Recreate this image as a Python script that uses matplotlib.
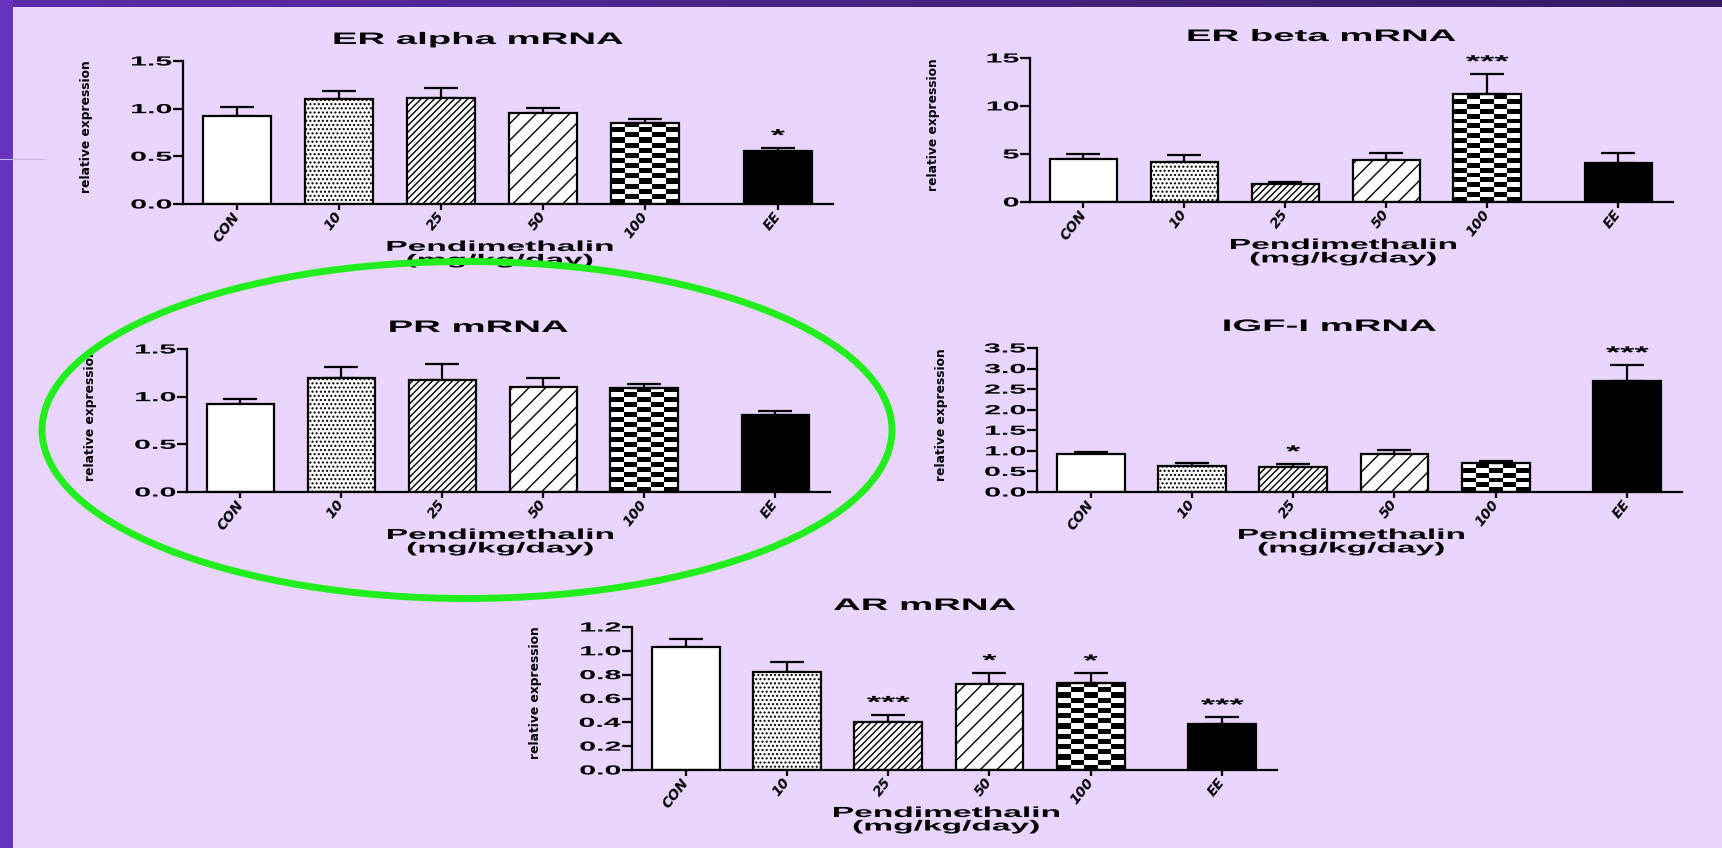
import numpy as np
import matplotlib
matplotlib.use("Agg")
import matplotlib.pyplot as plt
import matplotlib.patheffects as pe
from matplotlib.transforms import Affine2D
from matplotlib.patches import Ellipse, Rectangle
from matplotlib.lines import Line2D
from matplotlib.colors import LinearSegmentedColormap

plt.rcParams['font.family'] = ['Liberation Sans', 'DejaVu Sans']
plt.rcParams['font.weight'] = 'bold'
plt.rcParams['hatch.linewidth'] = 1.0

# groups on the x axis
groups = ['CON', '10', '25', '50', '100', 'EE']
xpos = [0, 1, 2, 3, 4, 5.3]

# ER alpha
era_mean = [0.92, 1.10, 1.11, 0.95, 0.85, 0.56]
era_sem = [0.10, 0.09, 0.11, 0.06, 0.045, 0.03]
era_sig = ['', '', '', '', '', '*']

# ER beta
erb_mean = [4.52, 4.21, 1.84, 4.35, 11.2, 4.07]
erb_sem = [0.50, 0.73, 0.28, 0.77, 2.15, 1.08]
erb_sig = ['', '', '', '', '***', '']

# PR
pr_mean = [0.926, 1.197, 1.176, 1.10, 1.093, 0.804]
pr_sem = [0.05, 0.115, 0.168, 0.097, 0.035, 0.045]
pr_sig = ['', '', '', '', '', '']

# IGF-I
igf_mean = [0.918, 0.642, 0.60, 0.926, 0.70, 2.705]
igf_sem = [0.065, 0.073, 0.08, 0.089, 0.064, 0.382]
igf_sig = ['', '', '*', '', '', '***']

# AR
ar_mean = [1.033, 0.821, 0.401, 0.721, 0.732, 0.39]
ar_sem = [0.069, 0.087, 0.064, 0.095, 0.081, 0.053]
ar_sig = ['', '', '***', '*', '*', '***']

faces = ['white', 'white', 'white', 'white', 'none', 'black']
hatches = [None, '....', '/////', '//', None, None]

W, H = 1722, 848
SX = 2.3


class Stretch(pe.AbstractPathEffect):
    # widen glyphs horizontally, the source picture is stretched sideways
    def __init__(self, sx=SX, anchor='center'):
        super().__init__()
        self.sx = sx
        self.anchor = anchor

    def draw_path(self, renderer, gc, tpath, affine, rgbFace=None):
        box = tpath.get_extents(affine)
        if self.anchor == 'right':
            x0 = box.x1
        elif self.anchor == 'left':
            x0 = box.x0
        else:
            x0 = (box.x0 + box.x1) / 2
        t = affine + Affine2D().translate(-x0, 0).scale(self.sx, 1).translate(x0, 0)
        renderer.draw_path(gc, tpath, t, rgbFace)


fig = plt.figure(figsize=(W / 100, H / 100), dpi=100, facecolor='#E9D5FD')


def rect(l, r, t, b):
    return [l / W, 1 - b / H, (r - l) / W, (b - t) / H]


def panel(box, title, mean, sem, sig, yticks, ylabels):
    ax = fig.add_axes(rect(*box))
    ax.set_facecolor('none')
    ax.set_ylim(yticks[0], yticks[-1])
    ax.set_xlim(-0.53, 5.84)
    bars = ax.bar(xpos, mean, width=0.67, color=faces, edgecolor='k',
                  linewidth=1.6, zorder=2)
    for b, h in zip(bars, hatches):
        if h:
            b.set_hatch(h)
    # checkerboard fill for the 100 group
    b = bars[4]
    x0, w, h = b.get_x(), b.get_width(), b.get_height()
    py = ax.transData.transform([(0, 0), (0, h)])
    nrows = max(1, int(round((py[1, 1] - py[0, 1]) / 5)))
    board = np.add.outer(np.arange(nrows), np.arange(5)) % 2
    im = ax.imshow(board, cmap='gray', extent=(x0, x0 + w, 0, h), aspect='auto',
                   interpolation='nearest', origin='lower', zorder=1)
    im.set_clip_path(b)

    ax.errorbar(xpos, mean, yerr=[np.zeros(len(sem)), sem], fmt='none', ecolor='k',
                elinewidth=1.6, capsize=12, capthick=1.6, zorder=1.8)
    for x, m, s, g in zip(xpos, mean, sem, sig):
        if g:
            ax.annotate(g, (x, m + s), xytext=(0, 3), textcoords='offset points',
                        ha='center', va='bottom', fontsize=12, fontweight='bold',
                        path_effects=[Stretch(2.2)])

    ax.set_xlim(-0.53, 5.84)
    ax.set_ylim(yticks[0], yticks[-1])
    ax.set_yticks(yticks)
    ax.set_yticklabels(ylabels, fontsize=9.5, fontweight='bold')
    for lbl in ax.get_yticklabels():
        lbl.set_path_effects([Stretch(SX, 'right')])
    ax.set_xticks(xpos)
    ax.set_xticklabels(groups, rotation=52, ha='right', va='center',
                       rotation_mode='anchor', fontsize=10, fontweight='heavy',
                       fontstyle='italic', family='DejaVu Sans')
    ax.tick_params(axis='y', length=7, width=1.6, pad=1)
    ax.tick_params(axis='x', length=4, width=1.6, pad=3)
    for sp in ['top', 'right']:
        ax.spines[sp].set_visible(False)
    for sp in ['left', 'bottom']:
        ax.spines[sp].set_linewidth(1.6)

    wpx = box[1] - box[0]
    hpx = box[3] - box[2]
    ax.text(0.5 - 30 / wpx, 1 + 17 / hpx, title, transform=ax.transAxes,
            ha='center', va='baseline', fontsize=12, fontweight='bold',
            path_effects=[Stretch()])
    ax.text(0.5 - 8 / wpx, -36 / hpx, 'Pendimethalin\n(mg/kg/day)',
            transform=ax.transAxes, ha='center', va='top', fontsize=10.5,
            fontweight='bold', linespacing=0.95, path_effects=[Stretch()])
    ax.text(-96 / wpx, 0.54, 'relative expression', transform=ax.transAxes,
            rotation=90, ha='center', va='center', fontsize=8.8,
            family='DejaVu Sans', fontweight='heavy')
    return ax


panel((183, 833, 61, 204), 'ER alpha mRNA', era_mean, era_sem, era_sig,
      [0, 0.5, 1.0, 1.5], ['0.0', '0.5', '1.0', '1.5'])
panel((1030, 1673, 58, 202), 'ER beta mRNA', erb_mean, erb_sem, erb_sig,
      [0, 5, 10, 15], ['0', '5', '10', '15'])
panel((187, 830, 349, 492), 'PR mRNA', pr_mean, pr_sem, pr_sig,
      [0, 0.5, 1.0, 1.5], ['0.0', '0.5', '1.0', '1.5'])
panel((1037, 1682, 348, 492), 'IGF-I mRNA', igf_mean, igf_sem, igf_sig,
      [0, 0.5, 1.0, 1.5, 2.0, 2.5, 3.0, 3.5],
      ['0.0', '0.5', '1.0', '1.5', '2.0', '2.5', '3.0', '3.5'])
panel((632, 1277, 627, 770), 'AR mRNA', ar_mean, ar_sem, ar_sig,
      [0, 0.2, 0.4, 0.6, 0.8, 1.0, 1.2],
      ['0.0', '0.2', '0.4', '0.6', '0.8', '1.0', '1.2'])

# slide frame: purple left strip and dark top band
fig.patches.append(Rectangle((0, 0), 13 / W, 1, transform=fig.transFigure,
                             facecolor='#6632BE', edgecolor='none', zorder=0))
fig.lines.append(Line2D([0, 45 / W], [1 - 159 / H, 1 - 159 / H],
                        transform=fig.transFigure, color='#C9B3F2', lw=0.8))
band = fig.add_axes([0, 1 - 7 / H, 1, 7 / H])
band.imshow(np.linspace(0, 1, 256)[None, :], aspect='auto',
            cmap=LinearSegmentedColormap.from_list('band', ['#5C2CAA', '#361B60']))
band.axis('off')

# green highlight ring around the PR panel
fig.patches.append(Ellipse((467 / W, 1 - 430 / H), 850 / W, 337 / H,
                           transform=fig.transFigure, fill=False,
                           edgecolor='#22EE1E', linewidth=5, zorder=10))

fig.savefig('out.png', dpi=100, facecolor=fig.get_facecolor())
